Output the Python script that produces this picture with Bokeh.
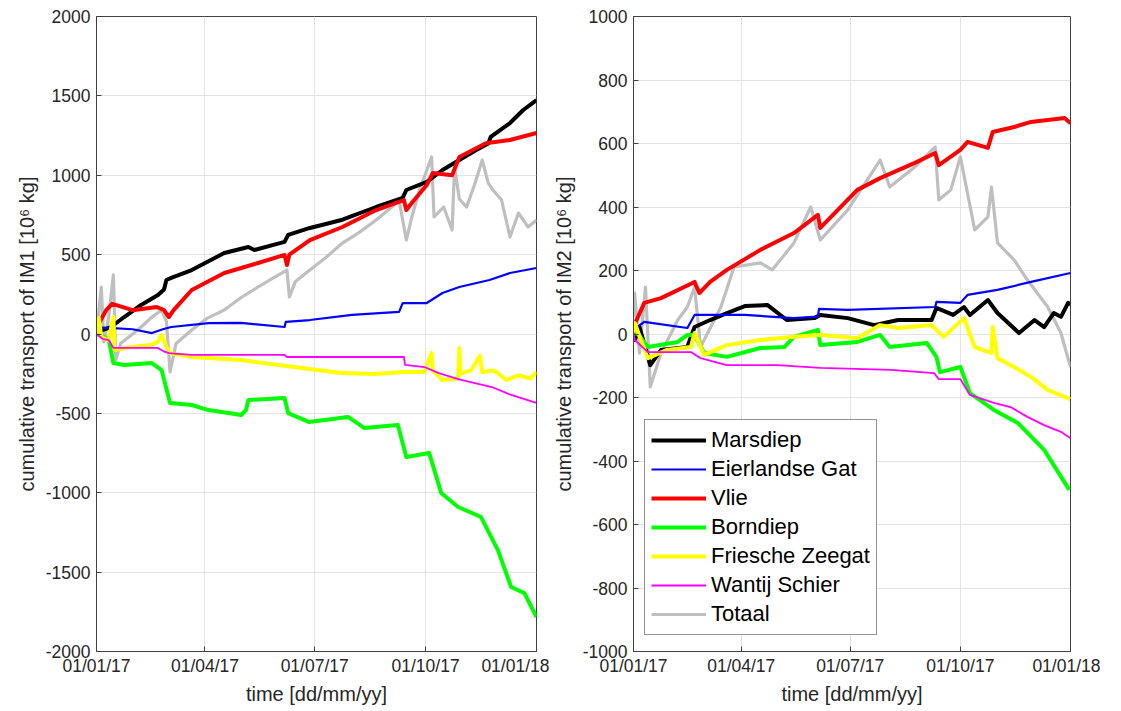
import pandas as pd
from bokeh.plotting import figure
from bokeh.layouts import row
from bokeh.models import Range1d, FixedTicker, DatetimeTickFormatter, Legend, LegendItem
from bokeh.embed import file_html
from bokeh.resources import INLINE

# ---------------- data (days since 01/01/2017, values in 10^6 kg) ----------------
series_names = ["Marsdiep", "Eierlandse Gat", "Vlie", "Borndiep", "Friesche Zeegat", "Wantij Schier", "Totaal"]
series_colors = ["#000000", "#0000ff", "#ff0000", "#00ff00", "#ffff00", "#ff00ff", "#bfbfbf"]

# IM1 (left panel)
im1_mars_days = [0, 3, 12, 23, 37, 51, 56, 58, 62, 79, 106, 126, 131, 156, 159, 177, 187, 204, 232, 254, 257, 274, 287, 301, 315, 325, 327, 343, 354, 365]
im1_mars_vals = [0, 20, 44, 107, 183, 246, 280, 340, 353, 403, 510, 548, 529, 580, 624, 668, 687, 720, 800, 857, 907, 958, 1033, 1096, 1159, 1200, 1241, 1329, 1411, 1474]
im1_eier_days = [0, 3, 10, 30, 46, 55, 62, 93, 120, 156, 157, 177, 212, 251, 254, 274, 287, 301, 326, 343, 365]
im1_eier_vals = [0, 40, 38, 30, 6, 30, 44, 69, 70, 44, 76, 88, 120, 139, 195, 195, 258, 296, 340, 384, 416]
im1_vlie_days = [0, 3, 8, 13, 30, 50, 56, 60, 64, 79, 106, 134, 156, 158, 160, 177, 204, 232, 255, 257, 262, 274, 279, 295, 301, 323, 343, 365]
im1_vlie_vals = [30, 80, 150, 190, 150, 170, 150, 107, 150, 277, 384, 447, 498, 435, 500, 592, 674, 781, 844, 781, 830, 939, 1014, 1000, 1115, 1201, 1222, 1266]
im1_born_days = [0, 10, 14, 23, 46, 54, 61, 79, 93, 120, 124, 126, 156, 159, 176, 209, 222, 250, 257, 276, 286, 300, 319, 333, 344, 355, 365]
im1_born_vals = [0, -30, -183, -195, -183, -227, -435, -447, -479, -510, -480, -416, -403, -498, -554, -523, -592, -573, -775, -750, -1002, -1090, -1153, -1361, -1594, -1632, -1783]
im1_fries_days = [0, 2, 4, 10, 14, 15, 29, 45, 51, 54, 58, 61, 79, 120, 162, 203, 231, 255, 272, 278, 279, 287, 300, 301, 302, 311, 318, 320, 330, 340, 350, 360, 365]
im1_fries_vals = [0, 100, -20, -40, 107, -101, -82, -70, -50, -6, -80, -120, -145, -164, -206, -246, -252, -239, -239, -120, -230, -290, -280, -88, -250, -227, -138, -240, -230, -290, -260, -280, -239]
im1_want_days = [0, 5, 10, 14, 51, 56, 60, 79, 156, 158, 255, 256, 272, 284, 300, 328, 344, 365]
im1_want_vals = [0, -30, -38, -88, -88, -110, -120, -132, -132, -145, -145, -195, -208, -246, -284, -334, -384, -434]
im1_tot_days = [0, 2, 4, 6, 10, 14, 16, 20, 30, 37, 45, 54, 58, 61, 66, 79, 92, 106, 120, 134, 146, 158, 160, 165, 177, 190, 204, 218, 232, 245, 251, 257, 262, 268, 278, 280, 288, 295, 297, 301, 307, 314, 320, 325, 329, 336, 343, 350, 358, 365]
im1_tot_vals = [0, 150, 296, -50, 100, 372, -164, -60, 0, 44, 100, 151, 80, -239, -60, 25, 100, 151, 230, 296, 350, 403, 233, 330, 403, 480, 573, 640, 718, 800, 844, 592, 750, 907, 1115, 737, 800, 655, 1052, 850, 800, 950, 1096, 950, 907, 844, 611, 762, 674, 718]

# IM2 (right panel)
im2_mars_days = [0, 1, 5, 14, 23, 45, 51, 64, 78, 93, 112, 128, 151, 156, 179, 201, 221, 249, 253, 267, 276, 281, 296, 304, 322, 335, 343, 351, 357, 363, 365]
im2_mars_vals = [22, -19, 22, -98, -50, -41, 22, 44, 66, 88, 91, 44, 50, 60, 50, 28, 44, 44, 82, 60, 85, 60, 107, 66, 3, 44, 22, 66, 54, 98, 95]
im2_eier_days = [0, 9, 45, 51, 93, 134, 154, 155, 179, 252, 253, 273, 279, 304, 332, 365]
im2_eier_vals = [13, 38, 19, 60, 60, 50, 55, 79, 76, 85, 101, 98, 123, 139, 164, 192]
im2_vlie_days = [0, 9, 23, 51, 55, 64, 78, 106, 134, 154, 156, 187, 206, 235, 252, 255, 273, 279, 296, 300, 318, 332, 360, 365]
im2_vlie_vals = [22, 98, 113, 164, 129, 164, 202, 265, 318, 375, 334, 454, 491, 539, 570, 532, 580, 605, 586, 636, 652, 668, 680, 664]
im2_born_days = [0, 3, 12, 37, 45, 51, 59, 78, 106, 126, 134, 154, 156, 187, 206, 214, 245, 253, 256, 273, 281, 301, 321, 343, 364]
im2_born_vals = [0, 3, -41, -25, -3, -3, -60, -72, -44, -41, -9, 13, -35, -25, -3, -41, -28, -72, -120, -104, -186, -239, -280, -365, -491]
im2_fries_days = [0, 1, 12, 28, 48, 51, 59, 78, 106, 134, 156, 187, 206, 221, 249, 259, 276, 285, 299, 300, 304, 318, 332, 346, 365]
im2_fries_vals = [3, 35, -76, -50, -41, 3, -66, -35, -19, -9, -3, -13, 28, 19, 28, -9, 50, -41, -60, 22, -76, -104, -135, -176, -205]
im2_want_days = [0, 1, 12, 48, 56, 78, 120, 156, 215, 251, 255, 273, 281, 301, 315, 329, 343, 357, 365]
im2_want_vals = [6, -19, -57, -57, -76, -98, -98, -107, -113, -123, -142, -142, -192, -217, -230, -261, -287, -308, -328]
im2_tot_days = [0, 1, 5, 10, 14, 23, 37, 45, 51, 56, 73, 84, 106, 116, 134, 148, 156, 179, 206, 214, 235, 252, 255, 265, 273, 285, 296, 299, 304, 318, 329, 346, 357, 365]
im2_tot_vals = [54, 129, -60, 148, -167, -60, 44, 85, 148, -41, 85, 211, 224, 202, 287, 400, 296, 391, 548, 463, 526, 589, 422, 454, 558, 328, 369, 463, 287, 233, 170, 85, 3, -104]

x_tick_dates = ["2017-01-01", "2017-04-01", "2017-07-01", "2017-10-01", "2018-01-01"]
im1_yticks = [-2000, -1500, -1000, -500, 0, 500, 1000, 1500, 2000]
im2_yticks = [-1000, -800, -600, -400, -200, 0, 200, 400, 600, 800, 1000]

START = pd.Timestamp("2017-01-01")
FONT = "Liberation Sans"
TXT = "#262626"


def to_dates(days):
    return [START + pd.Timedelta(days=d) for d in days]


def make_fig(frame_w, left_border, right_border, yticks, ylabel):
    p = figure(frame_width=frame_w, frame_height=635, x_axis_type="datetime",
               output_backend="svg", toolbar_location=None,
               min_border_left=left_border, min_border_right=right_border,
               min_border_top=16, min_border_bottom=52)
    p.x_range = Range1d(START, pd.Timestamp("2018-01-01"))
    p.y_range = Range1d(yticks[0], yticks[-1])
    tick_ms = [pd.Timestamp(d).value / 1e6 for d in x_tick_dates]
    p.xaxis.ticker = FixedTicker(ticks=tick_ms)
    fmt = "%d/%m/%y"
    p.xaxis.formatter = DatetimeTickFormatter(
        milliseconds=fmt, seconds=fmt, minsec=fmt, minutes=fmt, hourmin=fmt,
        hours=fmt, days=fmt, months=fmt, years=fmt)
    p.yaxis.ticker = FixedTicker(ticks=yticks)
    p.yaxis.major_label_overrides = {t: str(t) for t in yticks}
    p.xaxis.axis_label = "time [dd/mm/yy]"
    p.yaxis.axis_label = ylabel
    for ax in (p.xaxis, p.yaxis):
        ax.axis_label_text_font = FONT
        ax.axis_label_text_font_size = "20px"
        ax.axis_label_text_font_style = "normal"
        ax.axis_label_text_color = TXT
        ax.major_label_text_font = FONT
        ax.major_label_text_font_size = "17.5px"
        ax.major_label_text_color = TXT
        ax.axis_line_color = "#404040"
        ax.major_tick_line_color = "#404040"
        ax.major_tick_in = 5
        ax.major_tick_out = 0
        ax.minor_tick_line_color = None
    p.xaxis.major_label_standoff = 4
    p.xaxis.axis_label_standoff = 4
    p.yaxis.major_label_standoff = 6
    p.yaxis.axis_label_standoff = 5
    p.grid.grid_line_color = "#e3e3e3"
    p.grid.grid_line_width = 1
    p.outline_line_color = "#404040"
    p.outline_line_width = 1
    p.background_fill_color = "white"
    p.border_fill_color = "white"
    return p


def add_series(p, data):
    rends = {}
    # draw grey total first so that it lies beneath the others
    order = [6, 0, 1, 2, 3, 4, 5]
    widths = [4, 2.2, 4, 4, 4, 1.8, 3.2]
    for i in order:
        days, vals = data[i]
        rends[i] = p.line(to_dates(days), vals, line_color=series_colors[i],
                          line_width=widths[i], line_join="round")
    return [rends[i] for i in range(7)]


left = make_fig(440, 96, 13, im1_yticks, "cumulative transport of IM1 [10⁶ kg]")
add_series(left, [
    (im1_mars_days, im1_mars_vals), (im1_eier_days, im1_eier_vals),
    (im1_vlie_days, im1_vlie_vals), (im1_born_days, im1_born_vals),
    (im1_fries_days, im1_fries_vals), (im1_want_days, im1_want_vals),
    (im1_tot_days, im1_tot_vals)])

right = make_fig(437, 79, 30, im2_yticks, "cumulative transport of IM2 [10⁶ kg]")
r_rends = add_series(right, [
    (im2_mars_days, im2_mars_vals), (im2_eier_days, im2_eier_vals),
    (im2_vlie_days, im2_vlie_vals), (im2_born_days, im2_born_vals),
    (im2_fries_days, im2_fries_vals), (im2_want_days, im2_want_vals),
    (im2_tot_days, im2_tot_vals)])

legend = Legend(items=[LegendItem(label=n, renderers=[r]) for n, r in zip(series_names, r_rends)],
                location=(11, 16))
legend.label_text_font = FONT
legend.label_text_font_size = "22px"
legend.label_text_color = "#000000"
legend.label_height = 28
legend.glyph_height = 28
legend.glyph_width = 55
legend.label_standoff = 5
legend.spacing = 1
legend.padding = 6
legend.margin = 0
legend.border_line_color = "#262626"
legend.border_line_width = 1
legend.background_fill_color = "white"
legend.background_fill_alpha = 1
right.add_layout(legend, "center")

layout = row(left, right)
open("out.html", "w").write(file_html(layout, INLINE))
